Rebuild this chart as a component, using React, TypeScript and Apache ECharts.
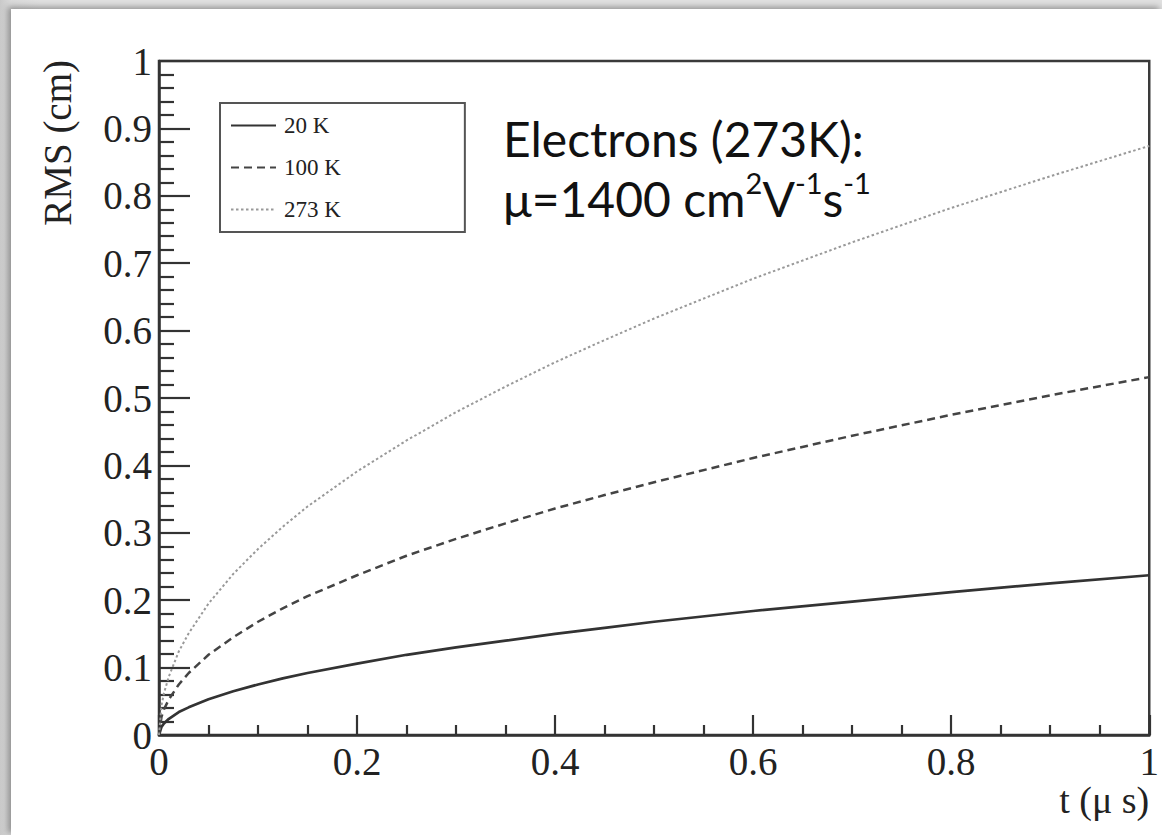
import React, { useEffect, useRef } from "react";
import * as echarts from "echarts";

const times = [0, 0.0025, 0.005, 0.01, 0.02, 0.03, 0.05, 0.075, 0.1, 0.125, 0.15, 0.2, 0.25, 0.3, 0.35, 0.4, 0.45, 0.5, 0.6, 0.7, 0.8, 0.9, 1.0];
const rms20K = [0, 0.012, 0.017, 0.024, 0.034, 0.041, 0.053, 0.065, 0.075, 0.084, 0.092, 0.106, 0.119, 0.130, 0.140, 0.150, 0.159, 0.168, 0.184, 0.198, 0.212, 0.225, 0.237];
const rms100K = [0, 0.027, 0.038, 0.053, 0.075, 0.092, 0.119, 0.145, 0.168, 0.188, 0.206, 0.237, 0.266, 0.291, 0.314, 0.336, 0.356, 0.375, 0.411, 0.444, 0.475, 0.504, 0.531];
const rms273K = [0, 0.044, 0.062, 0.087, 0.124, 0.151, 0.195, 0.239, 0.276, 0.309, 0.339, 0.391, 0.437, 0.479, 0.517, 0.553, 0.586, 0.618, 0.677, 0.731, 0.782, 0.829, 0.874];
const seriesNames = ["20 K", "100 K", "273 K"];
const xTitle = "t (\u03bc s)";
const yTitle = "RMS (cm)";

const pairs = (ys: number[]) => times.map((t, i) => [t, ys[i]]);

export default function App() {
  const ref = useRef<HTMLDivElement>(null);
  useEffect(() => {
    if (!ref.current) return;
    const chart = echarts.init(ref.current, undefined, { renderer: "svg" });
    const serif = "Liberation Serif";
    chart.setOption({
      animation: false,
      grid: {
        left: 159, top: 61, width: 996, height: 674,
        show: true, borderColor: "#3a3a3a", borderWidth: 2.5, backgroundColor: "transparent",
      },
      legend: {
        orient: "vertical", left: 220, top: 103,
        padding: [11, 124, 11, 10],
        itemGap: 19, itemWidth: 45, itemHeight: 14,
        borderColor: "#555", borderWidth: 2, backgroundColor: "#fff",
        itemStyle: { opacity: 0 },
        textStyle: { fontFamily: serif, fontSize: 23, color: "#222", lineHeight: 22, padding: [0, 0, 0, 3] },
        data: seriesNames,
      },
      xAxis: {
        type: "value", min: 0, max: 1, interval: 0.2,
        axisLine: { show: true, onZero: false, lineStyle: { color: "#333", width: 2.5 } },
        axisTick: { show: true, inside: true, length: 20, lineStyle: { color: "#333", width: 2.2 } },
        minorTick: { show: true, splitNumber: 4, length: 10, lineStyle: { color: "#333", width: 2.2 } },
        splitLine: { show: false },
        axisLabel: { fontFamily: serif, fontSize: 39, color: "#222", margin: 7 },
        name: xTitle, nameLocation: "end", nameGap: 0,
        nameTextStyle: { fontFamily: serif, fontSize: 38, color: "#222", align: "right", verticalAlign: "top", padding: [46, 0, 0, 0] },
      },
      yAxis: {
        type: "value", min: 0, max: 1, interval: 0.1,
        axisLine: { show: true, onZero: false, lineStyle: { color: "#333", width: 2.5 } },
        axisTick: { show: true, inside: true, length: 31, lineStyle: { color: "#333", width: 2.2 } },
        minorTick: { show: true, splitNumber: 5, length: 15, lineStyle: { color: "#333", width: 2.2 } },
        splitLine: { show: false },
        axisLabel: { fontFamily: serif, fontSize: 39, color: "#222", margin: 7 },
      },
      graphic: [
        {
          type: "text", x: 57, y: 60, rotation: Math.PI / 2,
          style: { text: yTitle, fontFamily: serif, fontSize: 39, fill: "#222", align: "right", verticalAlign: "middle" },
        },
        {
          type: "text", x: 503, y: 108,
          style: {
            text: "{a|Electrons (273K):}\n{a|\u03bc=1400 cm}{s|2}{a|V}{s|-1}{a|s}{s|-1}",
            align: "left", verticalAlign: "top",
            rich: {
              a: { fontFamily: "Lato", fontSize: 48, lineHeight: 60, fill: "#111" },
              s: { fontFamily: "Lato", fontSize: 29, lineHeight: 29, verticalAlign: "top", fill: "#111" },
            },
          },
        },
      ],
      series: [
        { name: seriesNames[0], type: "line", data: pairs(rms20K), showSymbol: false, symbol: "none",
          lineStyle: { color: "#333", width: 2.7, type: "solid" }, itemStyle: { color: "#333" } },
        { name: seriesNames[1], type: "line", data: pairs(rms100K), showSymbol: false, symbol: "none",
          lineStyle: { color: "#444", width: 2.5, type: [8, 5] }, itemStyle: { color: "#444" } },
        { name: seriesNames[2], type: "line", data: pairs(rms273K), showSymbol: false, symbol: "none",
          lineStyle: { color: "#999", width: 2, type: [2.5, 2.5] }, itemStyle: { color: "#999" } },
      ],
    });
    return () => chart.dispose();
  }, []);
  return (
    <div style={{ position: "fixed", left: 0, top: 0, width: 1162, height: 835, background: "linear-gradient(90deg,#c9c9c9 0px,#dadada 11px,#e0e0e0 40px)", overflow: "hidden" }}>
      <div style={{ position: "absolute", left: 11, top: 9, right: 0, bottom: 0, background: "#fff", boxShadow: "-3px -2px 6px rgba(0,0,0,0.35)" }} />
      <div ref={ref} style={{ position: "absolute", left: 0, top: 0, width: 1162, height: 835 }} />
    </div>
  );
}
